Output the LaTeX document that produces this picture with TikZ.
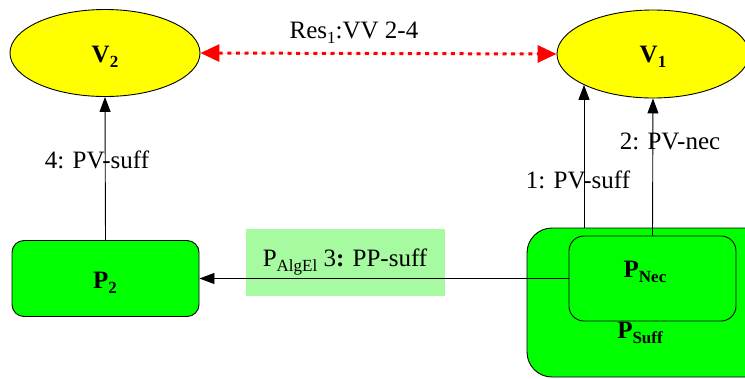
\documentclass[tikz,border=0pt]{standalone}
\usepackage{fontspec}
\setmainfont{Liberation Serif}
\usetikzlibrary{arrows.meta,shapes.geometric}
\definecolor{pgreen}{RGB}{0,255,0}
\definecolor{lgreen}{RGB}{166,250,160}
\definecolor{vyellow}{RGB}{255,255,0}
\newcommand\lsub[1]{\raisebox{-0.45ex}{\fontsize{17}{17}\selectfont #1}}
\begin{document}
\begin{tikzpicture}[x=1pt,y=-1pt,
  vnode/.style={ellipse,draw=black,line width=0.9pt,fill=vyellow,minimum width=190pt,minimum height=87pt,inner sep=0pt},
  pbox/.style={rectangle,draw=black,line width=0.9pt,fill=pgreen,inner sep=0pt},
  bold/.style={font=\fontsize{25}{29}\selectfont\bfseries,inner sep=0pt},
  lbl/.style={font=\fontsize{25}{29}\selectfont,inner sep=0pt},
  blk/.style={-{Triangle[length=15pt,width=11pt]},line width=0.9pt,draw=black},
  resarrow/.style={{Triangle[length=19pt,width=17pt]}-{Triangle[length=19pt,width=17pt]},line width=3pt,draw=red,fill=red,dash pattern=on 4pt off 4.6pt}
]
\clip (0,0) rectangle (745,378);
% ellipses
\node[vnode] (V2) at (105,53) {};
\node[bold] (V2t) at (105,57) {V\lsub{2}};
\node[vnode,minimum width=192pt,minimum height=88pt] (V1) at (653,54) {};
\node[bold] (V1t) at (653,57) {V\lsub{1}};
% boxes
\node[pbox,rounded corners=12pt,minimum width=187pt,minimum height=76pt] (P2) at (105.5,278.5) {};
\node[bold] (P2t) at (105,283) {P\lsub{2}};
\node[pbox,rounded corners=25pt,minimum width=250pt,minimum height=149pt] (PSuff) at (652,302.5) {};
\node[pbox,rounded corners=15pt,minimum width=167pt,minimum height=85pt] (PNec) at (652.5,278.5) {};
\node[bold] (PNect) at (645,272) {P\lsub{Nec}};
\node[bold] (PSufft) at (640,333) {P\lsub{Suff}};
% label box
\node[fill=lgreen,inner sep=0pt,minimum width=199pt,minimum height=67pt] (lbox) at (345.5,262.5) {};
% connectors
\draw[blk] (PNec.west) -- (PNec.west -| P2.east);
\node[lbl] (l3) at (345,262) {P\lsub{AlgEl} 3\textbf{:} PP-suff};
\draw[blk] (P2.north) -- (V2.south);
\coordinate (c1) at (584,0);
\draw[blk] (c1 |- PSuff.north) -- (c1 |- V1.204.5);
\draw[blk] (PNec.north) -- (V1.south);
\draw[resarrow] (V2.east) -- (V1.west);
% labels
\node[lbl] (l4) at (97,160) {4: PV-suff};
\node[lbl] (l1) at (578,180) {1: PV-suff};
\node[lbl] (l2) at (670,141) {2: PV-nec};
\node[lbl] (lres) at (354,33) {Res\lsub{1}:VV 2-4};
\end{tikzpicture}
\end{document}
